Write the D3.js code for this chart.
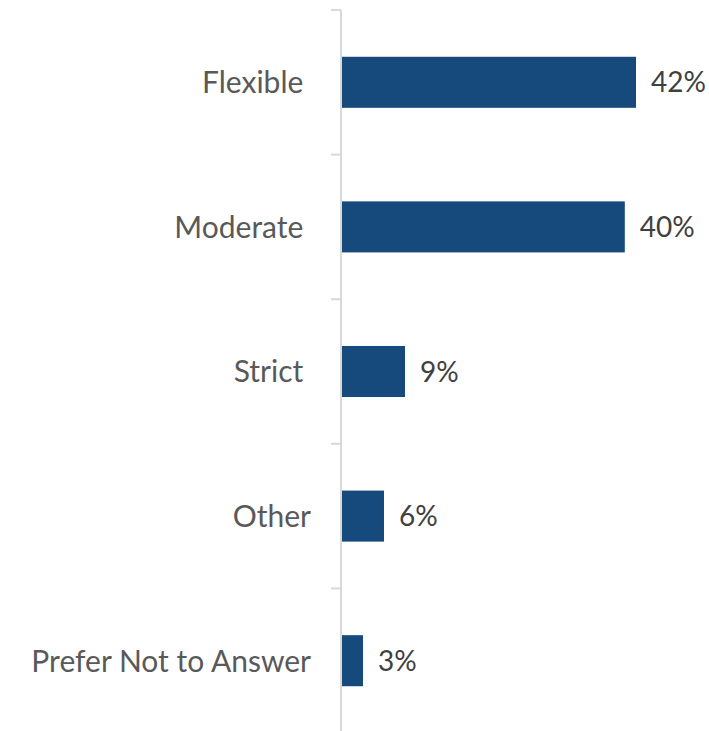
<!DOCTYPE html>
<html>
<head>
<meta charset="utf-8">
<script src="https://cdn.jsdelivr.net/npm/d3@7"></script>
<style>
  body { margin: 0; background: #fff; }
  text { font-family: "Lato", "Open Sans", sans-serif; white-space: pre; }
</style>
</head>
<body>
<div id="chart"></div>
<script>
// data
const categories = ["Flexible ", "Moderate ", "Strict ", "Other", "Prefer Not to Answer"];
const values = [42, 40.4, 9, 6, 3];

const W = 709, H = 731;
const margin = {top: 10, left: 341, bottom: -2, right: 30};
const width = W - margin.left - margin.right;
const height = H - margin.top - margin.bottom;

const svg = d3.select("#chart")
  .append("svg")
  .attr("width", W)
  .attr("height", H)
  .append("g")
  .attr("transform", `translate(${margin.left}, ${margin.top})`);

const yScale = d3.scaleBand()
  .domain(categories)
  .range([0, height])
  .paddingInner(0.647)
  .paddingOuter(0.3235);

// 7 px per percent
const xScale = d3.scaleLinear()
  .domain([0, 48])
  .range([0, 336]);

const data = categories.map((c, i) => ({cat: c, val: values[i]}));

// category axis with ticks on the band edges
const edges = yScale.domain().map(d => yScale(d) - yScale.step() * yScale.paddingInner() / 2);
edges.push(height);

svg.append("line")
  .attr("x1", 0).attr("x2", 0)
  .attr("y1", 0).attr("y2", height)
  .attr("stroke", "#d9d9d9")
  .attr("stroke-width", 2);

svg.selectAll(".tick")
  .data(edges)
  .enter()
  .append("line")
  .attr("class", "tick")
  .attr("x1", -10).attr("x2", 0)
  .attr("y1", d => d).attr("y2", d => d)
  .attr("stroke", "#d9d9d9")
  .attr("stroke-width", 2);

svg.selectAll(".bar")
  .data(data)
  .enter()
  .append("rect")
  .attr("class", "bar")
  .attr("x", 1)
  .attr("y", d => yScale(d.cat))
  .attr("width", d => xScale(d.val))
  .attr("height", yScale.bandwidth())
  .attr("fill", "#174a7c");

svg.selectAll(".cat")
  .data(data)
  .enter()
  .append("text")
  .attr("class", "cat")
  .attr("x", -30)
  .attr("y", d => yScale(d.cat) + yScale.bandwidth() / 2)
  .attr("dy", "0.36em")
  .attr("text-anchor", "end")
  .style("font-size", "30px")
  .style("fill", "#595959")
  .text(d => d.cat);

svg.selectAll(".val")
  .data(data)
  .enter()
  .append("text")
  .attr("class", "val")
  .attr("x", d => xScale(d.val) + 16)
  .attr("y", d => yScale(d.cat) + yScale.bandwidth() / 2)
  .attr("dy", "0.36em")
  .style("font-size", "28px")
  .style("fill", "#404040")
  .text(d => d3.format(".0f")(d.val) + "%");
</script>
</body>
</html>
